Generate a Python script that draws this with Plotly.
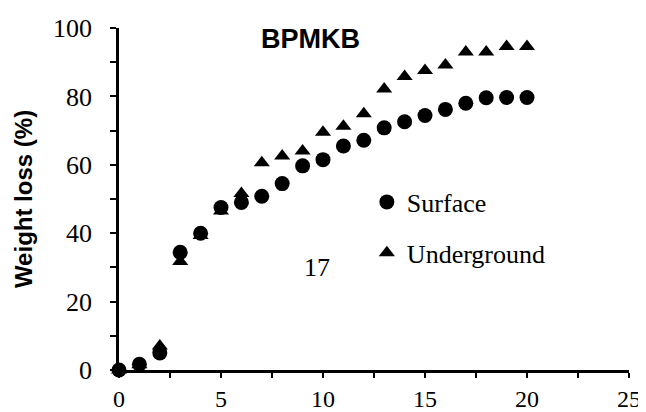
import plotly.graph_objects as go

days = list(range(0, 21))
surface = [0, 1.7, 5.0, 34.4, 40.0, 47.5, 49.0, 50.8, 54.5, 59.7, 61.5, 65.5, 67.2, 70.8, 72.6, 74.4, 76.2, 78.0, 79.6, 79.7, 79.7]
underground = [0, 1.5, 7.0, 31.7, 39.3, 46.5, 51.6, 60.6, 62.6, 64.0, 69.5, 71.3, 74.9, 82.2, 85.8, 87.6, 89.2, 93.0, 93.0, 94.6, 94.6]

SERIF = "Liberation Serif, Times New Roman, DejaVu Serif, serif"
SANS = "Liberation Sans, Arial, sans-serif"

fig = go.Figure()
fig.add_trace(go.Scatter(x=days, y=surface, mode="markers", name="Surface",
                         legendgroup="s",
                         marker=dict(symbol="circle", size=15, color="black"),
                         cliponaxis=False))
fig.add_trace(go.Scatter(x=days, y=underground, mode="markers", name="Underground",
                         legendgroup="u",
                         marker=dict(symbol="triangle-up", size=14, color="black"),
                         cliponaxis=False))

fig.add_annotation(x=9.4, y=96.8, text="<b>BPMKB</b>", showarrow=False,
                   font=dict(family=SANS, size=27, color="black"))
fig.add_annotation(x=9.7, y=30, text="17", showarrow=False,
                   font=dict(family=SERIF, size=26, color="black"))

fig.update_layout(
    width=638, height=404,
    margin=dict(l=111, r=17, t=20, b=42),
    paper_bgcolor="white", plot_bgcolor="white",
    showlegend=True,
    legend=dict(x=0.486, y=0.56, xanchor="left", yanchor="top",
                font=dict(family=SERIF, size=26, color="black"),
                bgcolor="rgba(0,0,0,0)", tracegroupgap=14,
                traceorder="grouped", itemwidth=30),
    xaxis=dict(range=[0, 25], dtick=5, tick0=0, showgrid=False, zeroline=False,
               automargin=False,
               showline=True, linecolor="black", linewidth=2.5,
               ticks="outside", ticklen=5, tickwidth=2, tickcolor="black",
               minor=dict(dtick=2.5, ticks="outside", ticklen=5, tickwidth=2, tickcolor="black", showgrid=False),
               ticklabelstandoff=0,
               tickfont=dict(family=SERIF, size=24, color="black")),
    yaxis=dict(range=[0, 100], dtick=20, tick0=0, showgrid=False, zeroline=False,
               automargin=False,
               showline=True, linecolor="black", linewidth=2.5,
               ticks="outside", ticklen=6, tickwidth=2, tickcolor="black",
               minor=dict(dtick=10, ticks="outside", ticklen=6, tickwidth=2, tickcolor="black", showgrid=False),
               tickfont=dict(family=SERIF, size=26, color="black"),
               ticklabelstandoff=13,
               title=dict(text="<b>Weight loss (%)</b>", standoff=14,
                          font=dict(family=SANS, size=24, color="black"))),
)

fig.write_html("out.html")
